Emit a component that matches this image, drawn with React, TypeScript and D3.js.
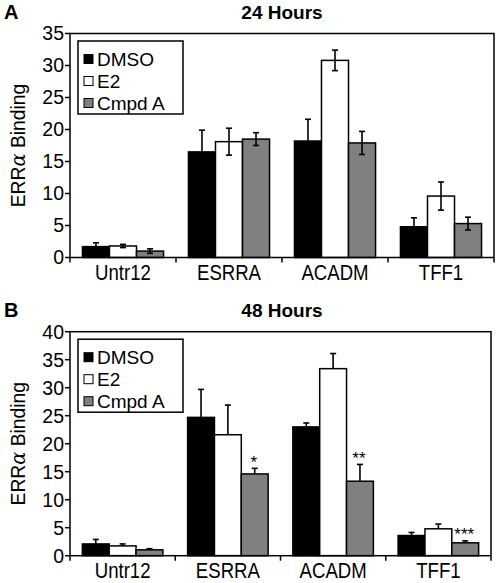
import React from "react";
import * as d3 from "d3";

const categories = ["Untr12", "ESRRA", "ACADM", "TFF1"];
const seriesNames = ["DMSO", "E2", "Cmpd A"];
const seriesColors = ["#000000", "#ffffff", "#808080"];

// 24 hours
const a_DMSO = [1.7, 16.5, 18.2, 4.8];
const a_E2 = [1.8, 18.1, 30.8, 9.6];
const a_CmpdA = [1.0, 18.5, 17.9, 5.3];
const a_errDMSO = [0.6, 3.4, 3.4, 1.4];
const a_errE2 = [0.25, 2.1, 1.6, 2.2];
const a_errCmpdA = [0.35, 1.0, 1.8, 1.0];

// 48 hours
const b_DMSO = [2.1, 24.7, 23.0, 3.6];
const b_E2 = [1.75, 21.6, 33.4, 4.8];
const b_CmpdA = [1.05, 14.6, 13.3, 2.3];
const b_errDMSO = [0.8, 5.0, 0.7, 0.55];
const b_errE2 = [0.35, 5.3, 2.7, 0.85];
const b_errCmpdA = [0.2, 1.0, 3.0, 0.35];
const b_stars = ["", "*", "**", "***"];

const ticksA = [0, 5, 10, 15, 20, 25, 30, 35];
const ticksB = [0, 5, 10, 15, 20, 25, 30, 35, 40];

const FONT = "'Liberation Sans', Arial, sans-serif";

type PanelProps = {
  letter: string;
  title: string;
  values: number[][];
  errors: number[][];
  ticks: number[];
  yMax: number;
  top: number;
  bottom: number;
  left: number;
  right: number;
  bothErr: boolean;
  stars?: string[];
};

function Panel(p: PanelProps) {
  const x0 = d3.scaleBand<string>().domain(categories).range([p.left, p.right]).paddingInner(0).paddingOuter(0);
  const bandW = x0.bandwidth();
  const groupW = bandW * 0.765;
  const x1 = d3.scaleBand<string>().domain(seriesNames).range([0, groupW]).padding(0);
  const y = d3.scaleLinear().domain([0, p.yMax]).range([p.bottom, p.top]);
  const midY = (p.top + p.bottom) / 2;
  const titleX = 282;
  const legendTop = p.top + 7.5;
  return (
    <g>
      <text x={4} y={p.top - 15} fontFamily={FONT} fontWeight="bold" fontSize={20}>{p.letter}</text>
      <text x={titleX} y={p.top - 15} textAnchor="middle" fontFamily={FONT} fontWeight="bold" fontSize={19}>{p.title}</text>
      <text transform={`translate(25,${midY}) rotate(-90) scale(1,1.08)`} textAnchor="middle" fontFamily={FONT} fontSize={19.3}>
        ERR<tspan fontFamily="'DejaVu Serif', serif" fontStyle="italic">α</tspan> Binding
      </text>
      {/* bars */}
      {categories.map((c, ci) => {
        const gx = (x0(c) as number) + (bandW - groupW) / 2;
        return seriesNames.map((s, si) => {
          const v = p.values[si][ci];
          const e = p.errors[si][ci];
          const bx = gx + (x1(s) as number);
          const bw = x1.bandwidth();
          const cx = bx + bw / 2;
          const yTop = y(v + e);
          const yBot = p.bothErr ? y(v - e) : y(v);
          return (
            <g key={c + s}>
              <rect x={bx} y={y(v)} width={bw} height={y(0) - y(v)} fill={seriesColors[si]} stroke="#000" strokeWidth={1.5} />
              <line x1={cx} x2={cx} y1={yTop} y2={yBot} stroke="#000" strokeWidth={1.6} />
              <line x1={cx - 3} x2={cx + 3} y1={yTop} y2={yTop} stroke="#000" strokeWidth={1.6} />
              {p.bothErr && <line x1={cx - 3} x2={cx + 3} y1={yBot} y2={yBot} stroke="#000" strokeWidth={1.6} />}
              {si === 2 && p.stars && p.stars[ci] && (
                <text x={cx - 1} y={yTop - 0.5} textAnchor="middle" fontFamily={FONT} fontSize={17} fill="#000">{p.stars[ci]}</text>
              )}
            </g>
          );
        });
      })}
      {/* frame */}
      <rect x={p.left} y={p.top} width={p.right - p.left} height={p.bottom - p.top} fill="none" stroke="#000" strokeWidth={1.5} />
      {/* y ticks */}
      {p.ticks.map((t) => (
        <g key={t}>
          <line x1={p.left - 5} x2={p.left} y1={y(t)} y2={y(t)} stroke="#000" strokeWidth={1.5} />
          <text x={p.left - 6} y={y(t)} dy="0.35em" textAnchor="end" fontFamily={FONT} fontSize={19.5}>{t}</text>
        </g>
      ))}
      {/* x ticks */}
      {[...categories.map((c) => x0(c) as number), p.right].map((xv, i) => (
        <line key={i} x1={xv} x2={xv} y1={p.bottom} y2={p.bottom + 5} stroke="#000" strokeWidth={1.5} />
      ))}
      {categories.map((c) => (
        <text
          key={c}
          transform={`translate(${(x0(c) as number) + bandW / 2},${p.bottom + 22.5}) scale(1,1.16)`}
          textAnchor="middle"
          fontFamily={FONT}
          fontSize={18.6}
        >
          {c}
        </text>
      ))}
      {/* legend */}
      <rect x={78} y={legendTop} width={105} height={73} fill="#fff" stroke="#000" strokeWidth={1.5} />
      {seriesNames.map((s, si) => {
        const cy = legendTop + 18 + si * 22;
        return (
          <g key={s}>
            <rect x={84} y={cy - 4.5} width={9} height={9} fill={seriesColors[si]} stroke="#000" strokeWidth={1} />
            <text x={97} y={cy} dy="0.35em" fontFamily={FONT} fontSize={19}>{s}</text>
          </g>
        );
      })}
    </g>
  );
}

export default function App() {
  return (
    <svg width={498} height={583} style={{ position: "absolute", left: 0, top: 0, background: "#fff" }}>
      <Panel
        letter="A"
        title="24 Hours"
        values={[a_DMSO, a_E2, a_CmpdA]}
        errors={[a_errDMSO, a_errE2, a_errCmpdA]}
        ticks={ticksA}
        yMax={35}
        top={33.5}
        bottom={257.5}
        left={70}
        right={494}
        bothErr={true}
      />
      <Panel
        letter="B"
        title="48 Hours"
        values={[b_DMSO, b_E2, b_CmpdA]}
        errors={[b_errDMSO, b_errE2, b_errCmpdA]}
        ticks={ticksB}
        yMax={40}
        top={331.7}
        bottom={555.7}
        left={70}
        right={491}
        bothErr={false}
        stars={b_stars}
      />
    </svg>
  );
}
